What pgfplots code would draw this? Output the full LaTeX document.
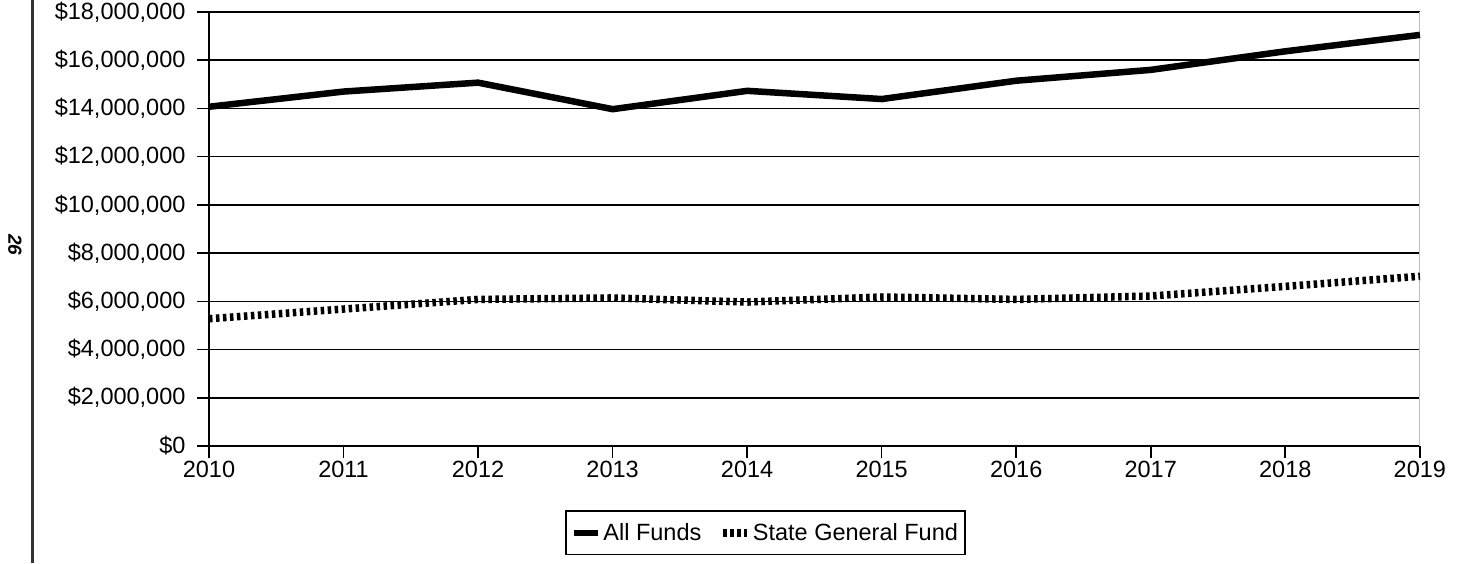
\documentclass[border=0pt]{standalone}
\usepackage{pgfplots}
\pgfplotsset{compat=1.18}
\usepackage{fontspec}
\setmainfont{Liberation Sans}
\begin{document}
\begin{tikzpicture}
\useasboundingbox (0,0) rectangle (1462pt,563pt);
\draw[line width=2.5pt, black!80] (32.5pt,0) -- (32.5pt,563pt);
\node[rotate=-90, font=\fontsize{19}{21}\selectfont\bfseries\itshape] at (15pt,318pt) {26};
\begin{axis}[
  at={(209pt,117pt)}, anchor=south west,
  scale only axis, width=1211pt, height=434pt,
  xmin=2010, xmax=2019, ymin=0, ymax=18000000,
  axis x line*=bottom, axis y line*=left,
  axis line style={line width=1.6pt, -},
  xtick={2010,...,2019},
  ytick={0,2000000,...,18000000},
  scaled y ticks=false,
  tick align=outside,
  major tick length=12pt,
  tick style={line width=1.6pt, black},
  ymajorgrids, grid style={line width=1.6pt, black},
  font=\fontsize{23.5}{27}\selectfont,
  /pgf/number format/assume math mode=true,
  xticklabel style={/pgf/number format/1000 sep=, yshift=0pt},
  yticklabel={\$\pgfmathprintnumber[fixed,1000 sep={,}]{\tick}},
  yticklabel style={xshift=-8pt},
  clip=false,
  legend style={at={(0.4595,-0.2)}, anchor=center, legend columns=2, draw=black, line width=1.4pt,
    font=\fontsize{23.5}{27}\selectfont, inner xsep=5pt, inner ysep=10.5pt,
    /tikz/every even column/.append style={column sep=16pt}},
  legend cell align=left,
  legend image code/.code={\draw[#1] (0pt,0pt) -- (24pt,0pt);},
]
\draw[gray!50, line width=1pt] (rel axis cs:1,0) -- (rel axis cs:1,1);
\addplot[line width=6.5pt, black] coordinates {
(2010,14070000) (2011,14700000) (2012,15070000) (2013,13970000) (2014,14730000)
(2015,14390000) (2016,15150000) (2017,15600000) (2018,16370000) (2019,17050000)};
\addlegendentry{All Funds}
\addplot[line width=7.5pt, black, dash pattern=on 3.5pt off 3.5pt] coordinates {
(2010,5280000) (2011,5680000) (2012,6080000) (2013,6140000) (2014,5970000)
(2015,6180000) (2016,6080000) (2017,6220000) (2018,6620000) (2019,7040000)};
\addlegendentry{State General Fund}
\end{axis}
\end{tikzpicture}
\end{document}
